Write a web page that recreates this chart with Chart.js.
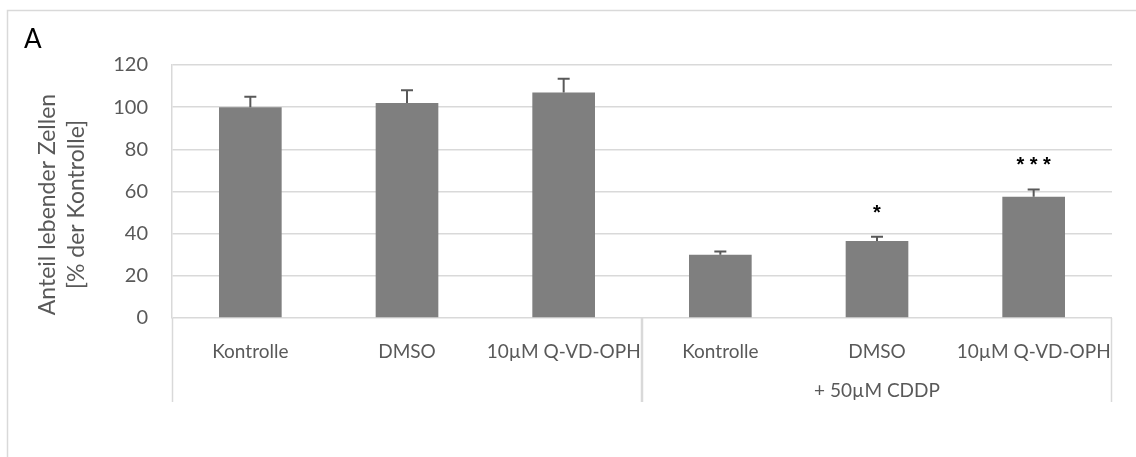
<!DOCTYPE html>
<html>
<head>
<meta charset="utf-8">
<script src="https://cdn.jsdelivr.net/npm/chart.js@4.4.1/dist/chart.umd.min.js"></script>
<style>
  html, body { margin: 0; padding: 0; background: #fff; }
  canvas { display: block; }
</style>
</head>
<body>
<canvas id="survivalChart" width="1136" height="457"></canvas>
<script>
// values
const categories = ["Kontrolle", "DMSO", "10µM Q-VD-OPH", "Kontrolle", "DMSO", "10µM Q-VD-OPH"];
const survival = [100, 102, 107, 30, 36.5, 57.5];
const errorUp = [5, 6, 6.5, 1.5, 2, 3.5];
const significance = ["", "", "", "", "*", "***"];
const groupLabels = ["", "+ 50µM CDDP"];
const groupSizes = [3, 3];
const yTitle = ["Anteil lebender Zellen", "[% der Kontrolle]"];
const panelLabel = "A";

const GRID = "#d9d9d9";
const TEXT = "#595959";
const FONT = "Lato";

// frame, panel letter and the two-line y title
const decorations = {
  id: "decorations",
  beforeDraw(chart) {
    const ctx = chart.ctx;
    const area = chart.chartArea;
    ctx.save();
    ctx.strokeStyle = GRID;
    ctx.lineWidth = 1.5;
    ctx.beginPath();
    ctx.moveTo(7.5, chart.height);
    ctx.lineTo(7.5, 10.5);
    ctx.lineTo(chart.width, 10.5);
    ctx.stroke();

    ctx.fillStyle = "#000";
    ctx.font = "26px " + FONT;
    ctx.textBaseline = "alphabetic";
    ctx.fillText(panelLabel, 24, 48);

    ctx.fillStyle = TEXT;
    ctx.font = "23px " + FONT;
    ctx.textAlign = "center";
    ctx.translate(55, (area.top + area.bottom) / 2 + 13);
    ctx.rotate(-Math.PI / 2);
    yTitle.forEach((line, i) => ctx.fillText(line, 0, i * 29));
    ctx.restore();
  },
};

// error bars (upper only) and significance stars
const errorBars = {
  id: "errorBars",
  afterDatasetsDraw(chart) {
    const ctx = chart.ctx;
    const yScale = chart.scales.y;
    const meta = chart.getDatasetMeta(0);
    ctx.save();
    ctx.strokeStyle = TEXT;
    ctx.lineWidth = 2;
    meta.data.forEach((bar, i) => {
      const top = yScale.getPixelForValue(survival[i] + errorUp[i]);
      ctx.beginPath();
      ctx.moveTo(bar.x, bar.y);
      ctx.lineTo(bar.x, top);
      ctx.moveTo(bar.x - 6, top);
      ctx.lineTo(bar.x + 6, top);
      ctx.stroke();
      if (significance[i]) {
        ctx.fillStyle = "#000";
        ctx.font = "bold 20px 'Liberation Sans'";
        ctx.textAlign = "center";
        ctx.textBaseline = "alphabetic";
        ctx.fillText(significance[i].split("").join(" "), bar.x, top - 18);
      }
    });
    ctx.restore();
  },
};

// second level of the category axis
const groupAxis = {
  id: "groupAxis",
  afterDraw(chart) {
    const ctx = chart.ctx;
    const xScale = chart.scales.x;
    const area = chart.chartArea;
    const yZero = chart.scales.y.getPixelForValue(0);
    const bottom = yZero + 84;
    const step = xScale.getPixelForValue(1) - xScale.getPixelForValue(0);
    ctx.save();
    ctx.strokeStyle = GRID;
    ctx.lineWidth = 1.5;
    ctx.fillStyle = TEXT;
    ctx.font = "19px " + FONT;
    ctx.textAlign = "center";
    ctx.textBaseline = "middle";
    let start = 0;
    groupSizes.forEach((size, g) => {
      const left = g === 0 ? area.left : xScale.getPixelForValue(start) - step / 2;
      const right = xScale.getPixelForValue(start + size - 1) + step / 2;
      ctx.beginPath();
      ctx.moveTo(Math.round(left) + 0.5, yZero);
      ctx.lineTo(Math.round(left) + 0.5, bottom);
      ctx.moveTo(Math.round(right) - 0.5, yZero);
      ctx.lineTo(Math.round(right) - 0.5, bottom);
      ctx.stroke();
      if (groupLabels[g]) ctx.fillText(groupLabels[g], (left + right) / 2, yZero + 73);
      start += size;
    });
    ctx.restore();
  },
};

const survivalChart = new Chart(document.getElementById("survivalChart").getContext("2d"), {
  type: "bar",
  data: {
    labels: categories,
    datasets: [
      {
        data: survival,
        backgroundColor: "#7f7f7f",
        categoryPercentage: 1,
        barPercentage: 0.4,
      },
    ],
  },
  options: {
    responsive: false,
    animation: false,
    layout: { padding: { top: 65, right: 24, left: 0, bottom: 0 } },
    plugins: {
      legend: { display: false },
      tooltip: { enabled: false },
    },
    scales: {
      x: {
        grid: { display: false },
        border: { display: false },
        ticks: { color: TEXT, font: { family: FONT, size: 19 }, padding: 14, maxRotation: 0, autoSkip: false },
        afterFit: (scale) => { scale.height = 139; },
      },
      y: {
        min: 0,
        max: 120,
        grid: { color: GRID, lineWidth: 1.5, drawTicks: false },
        border: { display: true, color: GRID, width: 1.5 },
        ticks: { stepSize: 20, color: TEXT, font: { family: FONT, size: 20 }, padding: 24 },
        afterFit: (scale) => { scale.width = 172; },
      },
    },
  },
  plugins: [decorations, errorBars, groupAxis],
});
</script>
</body>
</html>
